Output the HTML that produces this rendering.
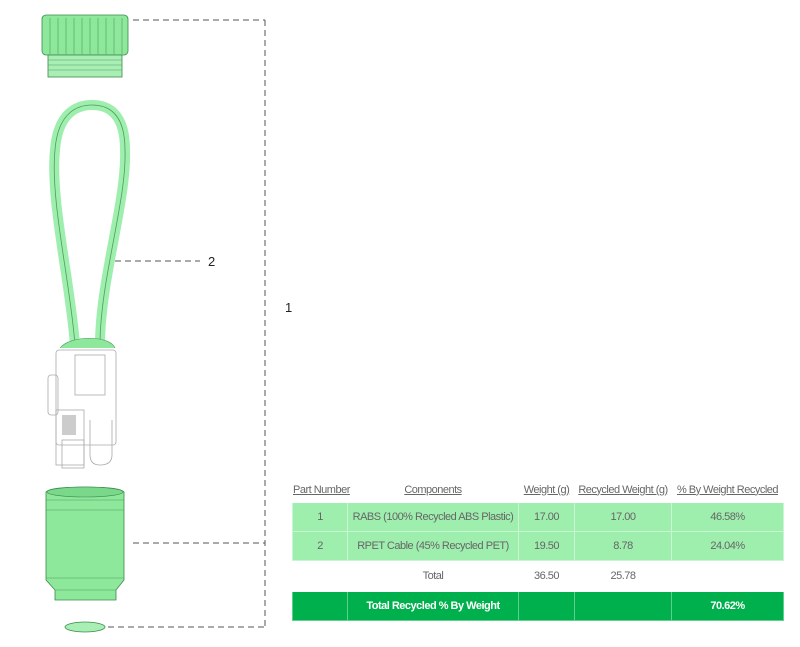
<!DOCTYPE html>
<html><head><style>
body{margin:0;background:#fff;width:800px;height:647px;overflow:hidden;position:relative;font-family:"Liberation Sans",sans-serif}
svg{position:absolute;left:0;top:0}
table{position:absolute;left:292px;top:476px;border-collapse:collapse;table-layout:fixed;width:491px;font-family:"Liberation Sans",sans-serif;font-size:11px;color:#666;letter-spacing:-0.5px}
td,th{text-align:center;padding:0;border:1px solid transparent;white-space:nowrap;overflow:visible}
th{font-weight:normal;text-decoration:underline;height:25px;color:#666}
tr.g td{background:#9eeeae;border-color:#c8f5d2;height:28px}
tr.t td{height:30px}
tr.d td{background:#00b04c;color:#fff;height:28px;border-color:#5fd08b}
</style></head><body>
<svg width="800" height="647">
<g stroke="#555" stroke-dasharray="6,4" fill="none" stroke-width="1">
<line x1="265" y1="20" x2="265" y2="627"/>
<line x1="133" y1="20" x2="265" y2="20"/>
<line x1="105" y1="261" x2="200" y2="261"/>
<line x1="133" y1="543" x2="265" y2="543"/>
<line x1="98" y1="627" x2="265" y2="627"/>
</g>
<text x="208" y="266" font-size="13" fill="#222">2</text>
<text x="285" y="312" font-size="13" fill="#222">1</text>
<rect x="42" y="15" width="86" height="40" rx="4" fill="#8de89c" stroke="#3a8a4a" stroke-width="0.8"/>
<g stroke="#4f9c5c" stroke-width="0.6">
<line x1="50" y1="18" x2="50" y2="54"/><line x1="58" y1="18" x2="58" y2="54"/><line x1="66" y1="18" x2="66" y2="54"/><line x1="74" y1="18" x2="74" y2="54"/><line x1="82" y1="18" x2="82" y2="54"/><line x1="90" y1="18" x2="90" y2="54"/><line x1="98" y1="18" x2="98" y2="54"/><line x1="106" y1="18" x2="106" y2="54"/><line x1="114" y1="18" x2="114" y2="54"/><line x1="122" y1="18" x2="122" y2="54"/>
</g>
<rect x="48" y="55" width="74" height="22" fill="#a9efb5" stroke="#3a8a4a" stroke-width="0.8"/>
<g stroke="#4f9c5c" stroke-width="0.6"><line x1="48" y1="60" x2="122" y2="60"/><line x1="48" y1="65" x2="122" y2="65"/><line x1="48" y1="70" x2="122" y2="70"/></g>
<path d="M75 345 C70 280 50 200 55 150 C58 110 80 105 92 105 C105 105 125 110 125 150 C127 200 100 280 100 345" fill="none" stroke="#9eeeae" stroke-width="10"/>
<path d="M75 345 C70 280 50 200 55 150 C58 110 80 105 92 105 C105 105 125 110 125 150 C127 200 100 280 100 345" fill="none" stroke="#4f9c5c" stroke-width="0.8"/>
<path d="M60 348 C70 335 110 335 115 348" fill="#8de89c" stroke="#4f9c5c" stroke-width="0.6"/>
<g fill="none" stroke="#aaa" stroke-width="0.8">
<rect x="56" y="350" width="60" height="95" rx="3"/>
<rect x="48" y="375" width="10" height="40" rx="3"/>
<rect x="56" y="410" width="28" height="55"/>
<rect x="62" y="440" width="22" height="28"/>
<path d="M90 420 L90 455 Q90 465 100 465 Q112 465 112 455 L112 420"/>
<rect x="75" y="355" width="30" height="40"/>
</g>
<rect x="62" y="415" width="14" height="20" fill="#ccc"/>
<path d="M46 492 Q50 487 85 487 Q120 487 124 492 L124 580 L116 590 L116 600 L55 600 L55 590 L46 580 Z" fill="#8de89c" stroke="#3a8a4a" stroke-width="0.8"/>
<ellipse cx="85" cy="492" rx="38" ry="5" fill="#7ad88a" stroke="#3a8a4a" stroke-width="0.6"/>
<g stroke="#4f9c5c" stroke-width="0.6"><line x1="46" y1="500" x2="124" y2="500"/><line x1="46" y1="510" x2="124" y2="510"/><line x1="46" y1="578" x2="124" y2="578"/><line x1="55" y1="590" x2="116" y2="590"/></g>
<ellipse cx="85" cy="627" rx="20" ry="5" fill="#a9efb5" stroke="#3a8a4a" stroke-width="0.8"/>
</svg>
<table>
<colgroup><col style="width:55px"><col style="width:171px"><col style="width:56px"><col style="width:97px"><col style="width:112px"></colgroup>
<tr><th>Part Number</th><th>Components</th><th>Weight (g)</th><th>Recycled Weight (g)</th><th>% By Weight Recycled</th></tr>
<tr class="g"><td>1</td><td>RABS (100% Recycled ABS Plastic)</td><td>17.00</td><td>17.00</td><td>46.58%</td></tr>
<tr class="g"><td>2</td><td>RPET Cable (45% Recycled PET)</td><td>19.50</td><td>8.78</td><td>24.04%</td></tr>
<tr class="t"><td></td><td>Total</td><td>36.50</td><td>25.78</td><td></td></tr>
<tr class="d"><td></td><td><b>Total Recycled % By Weight</b></td><td></td><td></td><td><b>70.62%</b></td></tr>
</table>
</body></html>
